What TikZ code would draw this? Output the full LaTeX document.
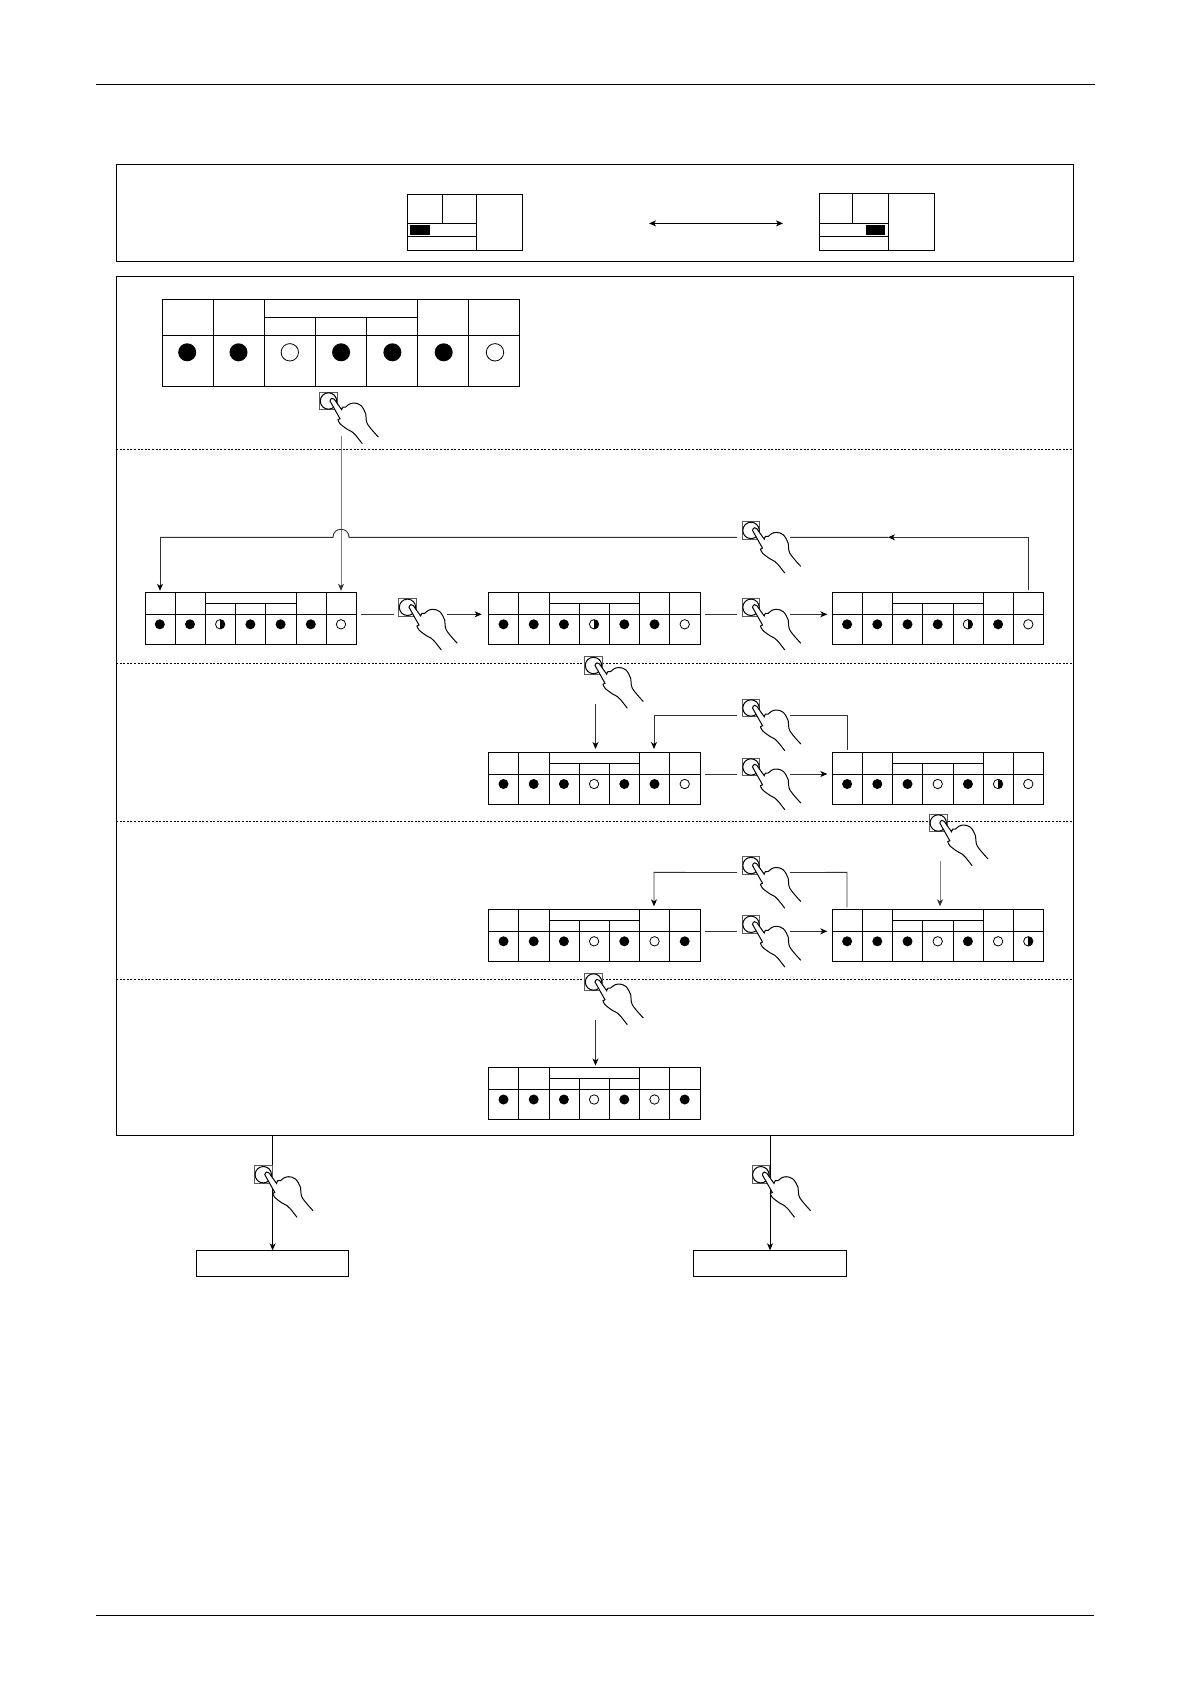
\documentclass[tikz,border=0pt]{standalone}
\usetikzlibrary{arrows.meta}

% sizes of the small lamp panel
\def\pw{30.2}
\def\ph{52}
\def\phd{22}
\def\psb{11.3}
\def\plamp{10}
\def\psize{10}
\def\pstep{30.2}
\def\pfirst{14.8}

\tikzset{
	rule/.style={line width=0.9pt},
	frame/.style={draw, line width=1pt, inner sep=0, outer sep=0, minimum width=957pt, anchor=north west},
	panel/.style={draw, line width=1pt, inner sep=0, outer sep=0, anchor=north west},
	outbox/.style={draw, line width=1pt, inner sep=0, outer sep=0, minimum width=152.6pt, minimum height=26pt, anchor=north},
	sep/.style={line width=0.9pt, dash pattern=on 2pt off 1.6pt},
	line/.style={line width=0.9pt, black!80},
	greyline/.style={line width=0.9pt, black!50},
	flow/.style={line/.try, -{Stealth[length=7pt,width=6pt,inset=2pt,black]}},
	greyflow/.style={greyline/.try, -{Stealth[length=7pt,width=6pt,inset=2pt,black!80]}},
	lampon/.style={circle, fill=black, inner sep=0, minimum size=\psize pt},
	lampoff/.style={circle, draw, line width=0.8pt, fill=white, inner sep=0, minimum size=\psize pt-0.6pt},
	lamphalf/.style={lampoff, path picture={\fill[black] (path picture bounding box.north) rectangle (path picture bounding box.south east);}},
	pushbtn/.style={draw=black!65, line width=1pt, fill=white, inner sep=0, outer sep=0, minimum size=17.6pt},
	pushring/.style={circle, draw, line width=1pt, inner sep=0, minimum size=16.4pt},
	pushhand/.pic={
		\node[pushbtn] (-btn) at (0,0) {};
		\node[pushring] (-ring) at (0,0) {};
		\coordinate (-left) at (-14,7);
		\coordinate (-right) at (39,7);
		\filldraw[line width=1pt, fill=white]
			plot[smooth, tension=.6] coordinates {(49.8,36) (38.8,22.7) (37.2,12.7) (32.2,4.3) (25.5,2) (20.5,3.3) (17.2,6) (14.5,6) (13.2,8.7)}
			-- (5.8,-1.7) .. controls (4.5,-3.5) and (2.2,-3) .. (1.5,0)
			-- (11.5,17.7)
			-- plot[smooth, tension=.6] coordinates {(9.5,18.7) (11.5,22.7) (18.8,28.3) (23.8,31) (27.2,34.3) (33.8,42.7)};
	}
}

% name, left, top, lamp states
\newcommand{\lamppanel}[4]{
	\node[panel, minimum width={7*\pw*1pt}, minimum height={\ph*1pt}] (#1) at (#2,#3) {};
	\draw[line width=1pt] (#2,#3+\phd) -- (#2+7*\pw,#3+\phd);
	\draw[line width=1pt] (#2+2*\pw,#3+\psb) -- (#2+5*\pw,#3+\psb);
	\foreach \c in {1,2,5,6}
		\draw[line width=1pt] (#2+\c*\pw,#3) -- (#2+\c*\pw,#3+\ph);
	\foreach \c in {3,4}
		\draw[line width=1pt] (#2+\c*\pw,#3+\psb) -- (#2+\c*\pw,#3+\ph);
	\foreach \s [count=\c from 0] in {#4}
		\node[lamp\s] (#1-\c) at (#2+\pfirst+\c*\pstep,#3+\phd+\plamp) {};
	\coordinate (#1-w) at (#2,#3+\phd);
	\coordinate (#1-e) at (#2+7*\pw,#3+\phd);
}

\begin{document}
\begin{tikzpicture}[x=1pt, y=-1pt]
	\useasboundingbox (0,0) rectangle (1190,1684);

	% page rules
	\coordinate (ruleTL) at (96,84);
	\coordinate (ruleTR) at (1095,84);
	\coordinate (ruleBL) at (96,1615.5);
	\coordinate (ruleBR) at (1094,1615.5);
	\draw[rule] (ruleTL) -- (ruleTR);
	\draw[rule] (ruleBL) -- (ruleBR);

	% frames and section borders
	\node[frame, minimum height=97pt] (frameTop) at (116.3,164.5) {};
	\node[frame, minimum height=859pt] (frameMain) at (116.3,276.5) {};
	\foreach \y in {449,663.5,821.7,979}
		\draw[sep] (116,\y) -- (1073,\y);

	% small displays in the top frame
	\node[panel, minimum width=115.2pt, minimum height=56pt] (miniL) at (407,194.5) {};
	\draw[line width=1pt] (476,194.5) -- (476,250.5);
	\draw[line width=1pt] (442,194.5) -- (442,223);
	\draw[line width=1pt] (407,223) -- (476,223);
	\draw[line width=1pt] (407,236.5) -- (476,236.5);
	\fill (410,225) rectangle (430,235);

	\node[panel, minimum width=115pt, minimum height=57pt] (miniR) at (819,193.5) {};
	\draw[line width=1pt] (888,193.5) -- (888,250.5);
	\draw[line width=1pt] (852,193.5) -- (852,223);
	\draw[line width=1pt] (819,223) -- (888,223);
	\draw[line width=1pt] (819,236.5) -- (888,236.5);
	\fill (866,225) rectangle (885,235);

	\coordinate (swapL) at (649,223.4);
	\coordinate (swapR) at (783,223.4);
	\draw[flow, {Stealth[length=7pt,width=6pt,inset=2pt,black]}-{Stealth[length=7pt,width=6pt,inset=2pt,black]}, black] (swapL) -- (swapR);

	% large lamp panel
	\begin{scope}
		\def\pw{51}\def\ph{87}\def\phd{36}\def\psb{18}\def\plamp{17.3}\def\psize{18}
		\def\pstep{51.3}\def\pfirst{25.2}
		\lamppanel{pBig}{162}{299}{on,on,off,on,on,on,off}
	\end{scope}

	% lamp panels
	\lamppanel{pA}{145}{592.3}{on,on,half,on,on,on,off}
	\lamppanel{pB}{488.7}{592.3}{on,on,on,half,on,on,off}
	\lamppanel{pC}{832.3}{592.3}{on,on,on,on,half,on,off}
	\lamppanel{pD}{488.7}{752}{on,on,on,off,on,on,off}
	\lamppanel{pE}{832.3}{752}{on,on,on,off,on,half,off}
	\lamppanel{pF}{488.7}{909.3}{on,on,on,off,on,off,on}
	\lamppanel{pG}{832.3}{909.3}{on,on,on,off,on,off,half}
	\lamppanel{pH}{488.7}{1067.5}{on,on,on,off,on,off,on}

	% boxes under the main frame
	\node[outbox] (boxL) at (272.6,1250.3) {};
	\node[outbox] (boxR) at (770,1250.3) {};

	% hands
	\pic (hTop) at (328.5,401) {pushhand};
	\pic (hAB) at (407.5,607.3) {pushhand};
	\pic (hBC) at (751,607.3) {pushhand};
	\pic (hBack) at (751,530.4) {pushhand};
	\pic (hBD) at (593.5,665.5) {pushhand};
	\pic (hED) at (751,708) {pushhand};
	\pic (hDE) at (751,767) {pushhand};
	\pic (hEG) at (938.3,823) {pushhand};
	\pic (hGF) at (751,865.5) {pushhand};
	\pic (hFG) at (751,924.3) {pushhand};
	\pic (hFH) at (593.5,982) {pushhand};

	% row one connectors
	\coordinate (topOut) at (341,436);
	\coordinate (jumpL) at (333,537.3);
	\coordinate (jumpR) at (349,537.3);
	\coordinate (backL) at (160,537.3);
	\coordinate (backR) at (1028.3,537.3);
	\coordinate (backMid) at (888,537.3);
	\draw[greyflow, shorten >=1.5pt] (topOut) -- (topOut |- pA.north);
	\draw[line, shorten <=5pt] (pA-e) -- (hAB-left);
	\draw[flow, shorten >=7pt] (hAB-right) -- (pB-w);
	\draw[line, shorten <=5pt] (pB-e) -- (hBC-left);
	\draw[flow, shorten >=5pt] (hBC-right) -- (pC-w);
	\draw[flow, shorten <=2pt] (backR |- pC.north) -- (backR) -- (backMid);
	\draw[line] (backMid) -- (hBack-right);
	\draw[line] (hBack-left) -- (jumpR) .. controls (349,526.6) and (333,526.6) .. (jumpL) -- (backL);
	\draw[flow, shorten >=1.5pt] (backL) -- (backL |- pA.north);

	% row two connectors
	\coordinate (inD) at (595.5,704);
	\coordinate (loopD) at (654,715);
	\coordinate (loopE) at (847,715);
	\draw[flow, shorten >=3pt] (inD) -- (inD |- pD.north);
	\draw[flow, shorten >=3pt] (hED-left) -- (loopD) -- (loopD |- pD.north);
	\draw[line, shorten >=2pt] (hED-right) -- (loopE) -- (loopE |- pE.north);
	\draw[line, shorten <=5pt] (pD-e) -- (hDE-left);
	\draw[flow, shorten >=5pt] (hDE-right) -- (pE-w);

	% row three connectors
	\coordinate (inG) at (940,861);
	\coordinate (loopF) at (654,872.4);
	\coordinate (loopG) at (847,872.4);
	\draw[greyflow, shorten >=3pt] (inG) -- (inG |- pG.north);
	\draw[flow, shorten >=3pt] (hGF-left) -- (loopF) -- (loopF |- pF.north);
	\draw[line, shorten >=2pt] (hGF-right) -- (loopG) -- (loopG |- pG.north);
	\draw[line, shorten <=5pt] (pF-e) -- (hFG-left);
	\draw[flow, shorten >=5pt] (hFG-right) -- (pG-w);

	% row four connector
	\coordinate (inH) at (595.5,1020);
	\draw[flow, shorten >=2pt] (inH) -- (inH |- pH.north);

	% exits from the main frame
	\draw[flow, black] (boxL.north |- frameMain.south) -- (boxL.north);
	\draw[flow, black] (boxR.north |- frameMain.south) -- (boxR.north);
	\pic (hL) at (263.3,1174.7) {pushhand};
	\pic (hR) at (760.8,1174.7) {pushhand};
\end{tikzpicture}
\end{document}
